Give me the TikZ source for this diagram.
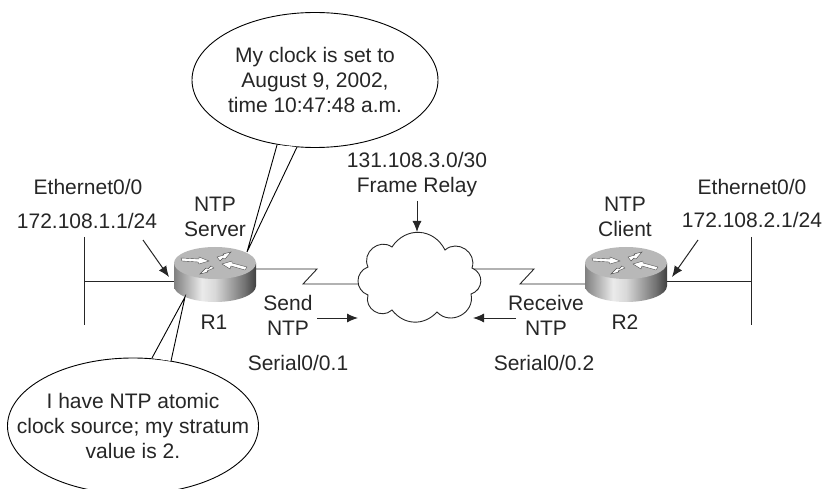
\documentclass[tikz,border=0pt]{standalone}
\usepackage{fontspec}
\setmainfont{Liberation Sans}
\usetikzlibrary{shapes.geometric,arrows.meta}
\definecolor{routertop}{gray}{0.72}
\pgfdeclarehorizontalshading{routerbody}{100bp}{
  color(0bp)=(black!50); color(25bp)=(black!50); color(42bp)=(black!8); color(50bp)=(black!15);
  color(68bp)=(black!55); color(75bp)=(black!75); color(100bp)=(black!75)}
\tikzset{
  lbl/.style={align=center,inner sep=0pt,font=\fontsize{21}{25}\selectfont,text=black!85},
  link/.style={line width=0.9pt,black!85},
  ptr/.style={-{Latex[length=11pt,width=9pt]},line width=1pt,black!85},
  bubble/.style={ellipse,draw,line width=0.9pt,fill=white,inner xsep=-40pt,inner ysep=-15pt,align=center,
    font=\fontsize{21}{25}\selectfont,text=black!85},
  tail/.style={line width=0.9pt},
  tinyarrow/.style={draw=black!70,line width=0.4pt,fill=white},
  router/.pic={
    \path[shading=routerbody,shading angle=0] (-41,0) -- (-41,23)
      arc[start angle=180,end angle=0,x radius=41,y radius=16] -- (41,0) -- cycle;
    \fill[routertop] (0,0) ellipse[x radius=41,y radius=16];
    % the four arrows on the lid
    \draw[tinyarrow] (-34,-5) -- (-16,-4) -- (-16,-6) -- (-6,-2) -- (-16,1) -- (-17,-1) -- (-33,-2) -- cycle;
    \draw[tinyarrow] (32,4) -- (17,0) -- (17,-2) -- (7,1) -- (15,6) -- (16,3) -- (30,7) -- cycle;
    \draw[tinyarrow] (16,-11) -- (8,-9) -- (9,-8) -- (2,-6) -- (5,-2) -- (8,-5) -- (10,-4) -- cycle;
    \draw[tinyarrow] (-15,11) -- (-7,9) -- (-8,8) -- (-1,5) -- (-4,3) -- (-7,6) -- (-9,5) -- cycle;
    \coordinate (-w) at (-41,18);
    \coordinate (-e) at (41,6);
    \coordinate (-lan) at (41,18);
    \coordinate (-swi) at (-41,21);
    \coordinate (-pbot) at (-30,34);
    \coordinate (-ptop) at (32,-11);
  }
}
\begin{document}
\begin{tikzpicture}[x=1pt,y=-1pt]
\useasboundingbox (0,0) rectangle (825,489);
\clip (0,0) rectangle (825,489);

\coordinate (LAN1t) at (84,237);
\coordinate (LAN1b) at (84,325);
\coordinate (LAN1m) at (84,281);
\coordinate (LAN2t) at (751,237);
\coordinate (LAN2b) at (751,325);
\coordinate (LAN2m) at (751,281);

\draw[link] (LAN1t) -- (LAN1b);
\draw[link] (LAN2t) -- (LAN2b);

\pic (R1) at (215,263) {router};
\pic (R2) at (626,263) {router};

\draw[link] (LAN1m) -- (R1-w);
\draw[link] (R2-lan) -- (LAN2m);

\node[minimum width=100pt,minimum height=60pt,inner sep=0pt] (FR) at (419,276) {};
\coordinate (s1a) at (317,269);
\coordinate (s1b) at (303,284);
\coordinate (s2a) at (534,269);
\coordinate (s2b) at (520,284);
\draw[link] (R1-e) -- (s1a) -- (s1b) -- (FR.west |- s1b);
\draw[link] (FR.east |- s2a) -- (s2a) -- (s2b) -- (R2-swi |- s2b);

% cloud, notch to notch
\draw[link,fill=white] (368,267) to[bend left=75,looseness=1.3] (392,247)
  to[bend left=60,looseness=1.2] (445,250)
  to[bend left=75,looseness=1.3] (472,268)
  to[bend left=70,looseness=1.3] (471,294)
  to[bend left=75,looseness=1.3] (437,312)
  to[bend left=50,looseness=1.1] (392,310)
  to[bend left=75,looseness=1.3] (368,295)
  to[bend left=70,looseness=1.3] cycle;

\node[bubble,minimum width=246pt,minimum height=135pt] (msg1) at (315,80) {My clock is set to\\August 9, 2002,\\time 10:47:48 a.m.};
\coordinate (t1a) at (277,145);
\coordinate (t1b) at (297,147);
\fill[white] (t1a) -- (R1-ptop) -- (t1b) -- cycle;
\draw[tail] (t1a) -- (R1-ptop) -- (t1b);

\node[bubble,minimum width=251pt,minimum height=136pt] (msg2) at (133,426) {I have NTP atomic\\clock source; my stratum\\value is 2.};
\coordinate (t2a) at (152,358);
\coordinate (t2b) at (171,361);
\fill[white] (t2a) -- (R1-pbot) -- (t2b) -- cycle;
\draw[tail] (t2a) -- (R1-pbot) -- (t2b);

\node[lbl] (eth1) at (88,187) {Ethernet0/0};
\node[lbl] (ip1) at (87,221) {172.108.1.1/24};
\node[lbl] (eth2) at (752,187) {Ethernet0/0};
\node[lbl] (ip2) at (752,220) {172.108.2.1/24};
\node[lbl] (srv) at (215,217) {NTP\\Server};
\node[lbl] (cli) at (625,217) {NTP\\Client};
\node[lbl] (nameR1) at (214,322) {R1};
\node[lbl] (nameR2) at (625,322) {R2};
\node[lbl] (fr) at (417,175) {131.108.3.0/30\\Frame Relay};
\node[lbl] (snd) at (288,315) {Send\\NTP};
\node[lbl] (rcv) at (546,315) {Receive\\NTP};
\node[lbl] (s1) at (298,363) {Serial0/0.1};
\node[lbl] (s2) at (544,363) {Serial0/0.2};

\coordinate (a1) at (143,240);
\coordinate (b1) at (169,277);
\coordinate (a2) at (698,240);
\coordinate (b2) at (672,277);
\coordinate (a3) at (417,201);
\coordinate (b3) at (417,232);
\coordinate (a4) at (317,318);
\coordinate (b4) at (358,318);
\coordinate (a5) at (516,318);
\coordinate (b5) at (473,318);
\draw[ptr] (a1) -- (b1);
\draw[ptr] (a2) -- (b2);
\draw[ptr] (a3) -- (b3);
\draw[ptr] (a4) -- (b4);
\draw[ptr] (a5) -- (b5);
\end{tikzpicture}
\end{document}
